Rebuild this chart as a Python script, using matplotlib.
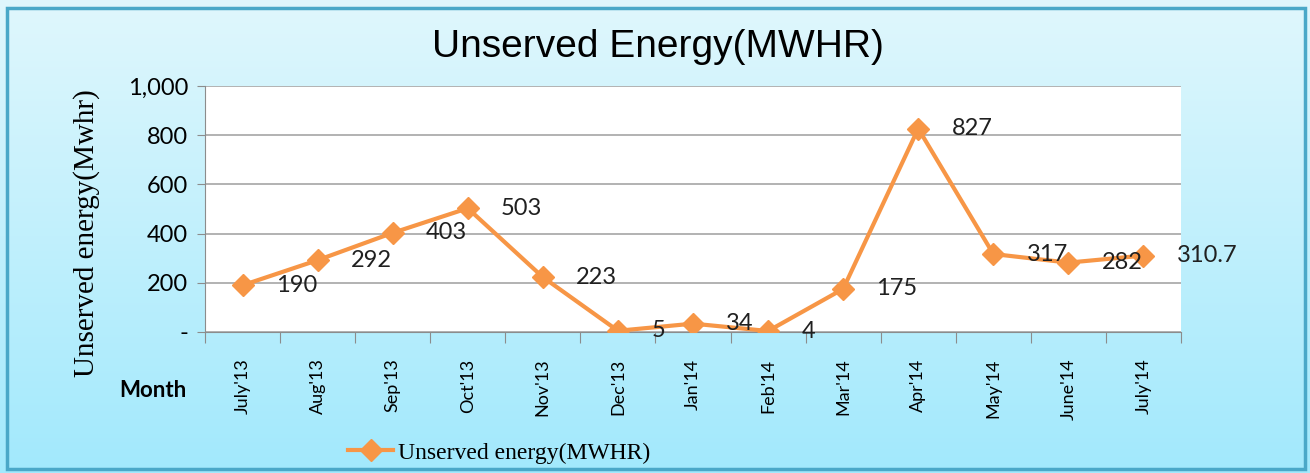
import matplotlib
matplotlib.use("Agg")
import matplotlib.pyplot as plt
import numpy as np
from matplotlib.patches import Rectangle
from matplotlib.colors import LinearSegmentedColormap

# data
months = ["July'13", "Aug'13", "Sep'13", "Oct'13", "Nov'13", "Dec'13", "Jan'14",
          "Feb'14", "Mar'14", "Apr'14", "May'14", "June'14", "July'14"]
energy = [190, 292, 403, 503, 223, 5, 34, 4, 175, 827, 317, 282, 310.7]
point_labels = ["190", "292", "403", "503", "223", "5", "34", "4", "175", "827", "317", "282", "310.7"]
y_ticks = [0, 200, 400, 600, 800, 1000]
y_tick_labels = ["-", "200", "400", "600", "800", "1,000"]

orange = "#f79646"
sans = "Lato"
serif = "Liberation Serif"

fig = plt.figure(figsize=(13.1, 4.73), dpi=100)

# gradient background
bg = fig.add_axes([0, 0, 1, 1], zorder=-10)
grad = np.linspace(0, 1, 256).reshape(-1, 1)
cmap = LinearSegmentedColormap.from_list("bg", ["#e0f7fd", "#a2e9fc"])
bg.imshow(grad, aspect="auto", cmap=cmap, extent=[0, 1, 0, 1], origin="upper")
bg.add_patch(Rectangle((0.005, 0.008), 0.991, 0.975, fill=False,
                       edgecolor="#4aa8c8", linewidth=2.5, transform=bg.transAxes))
bg.set_xlim(0, 1)
bg.set_ylim(0, 1)
bg.axis("off")

ax = fig.add_axes([205 / 1310, 1 - 332 / 473, (1181 - 205) / 1310, (332 - 86) / 473])
ax.set_facecolor("white")
x = np.arange(len(months))
ax.plot(x, energy, color=orange, linewidth=3, marker="D", markersize=11,
        label="Unserved energy(MWHR)", zorder=3)

for xi, yi, lab in zip(x, energy, point_labels):
    ax.annotate(lab, (xi, yi), xytext=(24, 0), textcoords="offset points",
                ha="left", va="center", fontsize=17, family=sans, color="#202020",
                zorder=4)

ax.set_xlim(-0.5, len(months) - 0.5)
ax.set_ylim(0, 1000)
ax.set_yticks(y_ticks)
ax.set_yticklabels(y_tick_labels, fontsize=17, family=sans)
ax.yaxis.grid(True, color="#a6a6a6", linewidth=1.2)
ax.set_axisbelow(True)

ax.set_xticks(np.arange(len(months) + 1) - 0.5)
ax.set_xticklabels([])
ax.set_xticks(x, minor=True)
ax.set_xticklabels(months, minor=True, rotation=90, fontsize=13, family=sans,
                   va="top", ha="center")
ax.tick_params(axis="x", which="major", length=8, color="#8c8c8c")
ax.tick_params(axis="x", which="minor", length=0, pad=19)
ax.tick_params(axis="y", length=6, color="#8c8c8c", pad=6)

for s in ["top", "right"]:
    ax.spines[s].set_visible(False)
for s in ["left", "bottom"]:
    ax.spines[s].set_color("#8c8c8c")

fig.text(0.502, 1 - 47 / 473, "Unserved Energy(MWHR)", ha="center", va="center",
         fontsize=28, family="Liberation Sans")
fig.text(87 / 1310, 1 - 233 / 473, "Unserved energy(Mwhr)", rotation=90,
         ha="center", va="center", fontsize=21, family=serif)
fig.text(153 / 1310, 1 - 390 / 473, "Month", ha="center", va="center",
         fontsize=16, fontweight="bold", family=sans)

leg = ax.legend(loc="center", bbox_to_anchor=(499 / 1310, 1 - 453 / 473),
                bbox_transform=fig.transFigure, frameon=False,
                prop={"family": serif, "size": 17}, handlelength=1.9,
                handletextpad=0.2, borderpad=0)

fig.savefig("out.png", dpi=100)
